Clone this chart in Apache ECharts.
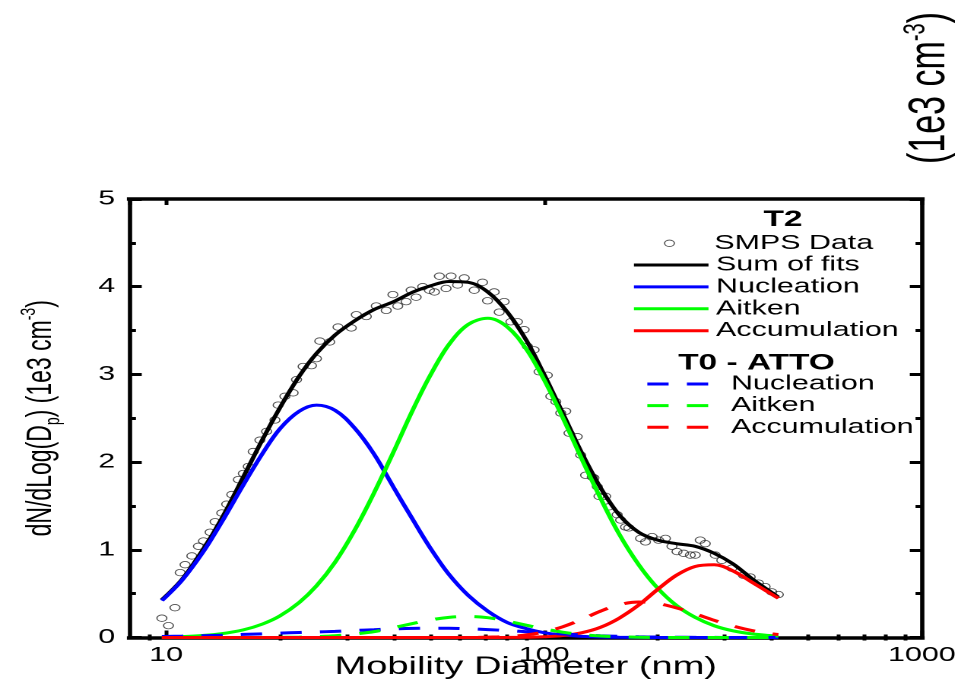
<!DOCTYPE html>
<html>
<head>
<meta charset="utf-8">
<title>SMPS size distribution with lognormal mode fits</title>
<script src="https://cdn.jsdelivr.net/npm/echarts@6/dist/echarts.min.js"></script>
<style>
  html, body { margin: 0; padding: 0; background: #ffffff; overflow: hidden; }
  /* The figure is laid out on a narrow canvas and widened horizontally,
     which gives the wide lettering and oval markers of the exported plot. */
  #chart { width: 632px; height: 680px; transform: scaleX(1.5206); transform-origin: 0 0; }
</style>
</head>
<body>
<div id="chart"></div>
<script>
// ---------- measured SMPS spectrum (T2) ----------
const smpsDiameter = [9.74, 10.14, 10.55, 10.89, 11.22, 11.69, 12.17, 12.55, 13.07, 13.47,
  14.03, 14.46, 14.91, 15.52, 16.0, 16.49, 16.99, 17.7, 18.44, 19.4,
  19.78, 20.61, 21.67, 22.13, 23.03, 24.24, 24.98, 25.49, 27.08, 28.49,
  30.9, 31.86, 33.85, 35.97, 38.22, 39.8, 41.0, 43.15, 44.49, 45.86,
  47.74, 49.73, 51.26, 52.84, 55.03, 56.73, 59.05, 61.5, 65.35, 68.73,
  70.85, 73.8, 76.08, 78.43, 81.68, 85.03, 88.55, 90.36, 94.1, 97.0,
  102.0, 104.2, 107.4, 110.7, 114.1, 116.4, 122.4, 125.0, 128.8, 134.1,
  135.5, 138.3, 139.7, 145.5, 148.4, 156.1, 159.4, 164.3, 167.6, 180.0,
  185.5, 193.1, 201.0, 209.5, 218.0, 224.8, 234.1, 243.8, 251.3, 259.0,
  267.0, 283.8, 295.4, 314.0, 337.1, 351.1, 369.3, 384.6, 400.4, 416.9];
const smpsConc = [0.22, 0.135, 0.34, 0.74, 0.83, 0.93, 1.04, 1.10, 1.20, 1.32,
  1.42, 1.52, 1.63, 1.80, 1.87, 1.95, 2.12, 2.25, 2.35, 2.48,
  2.65, 2.75, 2.79, 2.94, 3.09, 3.10, 3.18, 3.38, 3.37, 3.54,
  3.53, 3.68, 3.66, 3.78, 3.73, 3.91, 3.78, 3.83, 3.96, 3.88,
  4.00, 3.96, 3.94, 4.12, 3.98, 4.12, 4.02, 4.10, 3.96, 4.05,
  3.84, 3.94, 3.71, 3.83, 3.60, 3.60, 3.51, 3.32, 3.28, 3.03,
  2.99, 2.75, 2.69, 2.56, 2.58, 2.33, 2.29, 2.08, 1.85, 1.83,
  1.82, 1.72, 1.61, 1.61, 1.49, 1.40, 1.34, 1.26, 1.25, 1.13,
  1.09, 1.15, 1.11, 1.13, 1.04, 0.98, 0.96, 0.94, 0.94, 1.11,
  1.07, 0.94, 0.88, 0.79, 0.71, 0.69, 0.62, 0.58, 0.52, 0.49];

// ---------- fitted modes, sampled along the diameter axis ----------
const fitDiameter = [9.74, 11, 12.5, 14, 16, 18, 20, 22.5, 25, 28,
  31.5, 35.5, 40, 45, 50, 56, 63, 71, 80, 90,
  100, 112, 126, 141, 158, 178, 200, 224, 251, 282,
  316, 355, 398, 417];
const t2Sum = [0.43, 0.66, 1.00, 1.35, 1.83, 2.26, 2.62, 2.98, 3.24, 3.45,
  3.61, 3.74, 3.83, 3.94, 4.01, 4.06, 4.05, 3.94, 3.71, 3.38,
  3.00, 2.56, 2.10, 1.71, 1.40, 1.20, 1.11, 1.07, 1.04, 0.96,
  0.84, 0.67, 0.52, 0.46];
const t2Nucleation = [0.42, 0.65, 0.97, 1.31, 1.74, 2.10, 2.38, 2.58, 2.65, 2.59,
  2.39, 2.09, 1.71, 1.34, 1.02, 0.72, 0.48, 0.30, 0.17, 0.10,
  0.055, 0.028, 0.013, 0.006, 0.003, 0.001, 0, 0, 0, 0,
  0, 0, 0, 0];
const t2Aitken = [0.005, 0.01, 0.023, 0.043, 0.087, 0.154, 0.246, 0.40, 0.59, 0.86,
  1.22, 1.65, 2.12, 2.60, 2.99, 3.34, 3.57, 3.64, 3.54, 3.28,
  2.94, 2.51, 2.03, 1.59, 1.18, 0.83, 0.56, 0.365, 0.23, 0.134,
  0.076, 0.041, 0.021, 0.016];
const t2Accumulation = [0, 0, 0, 0, 0, 0, 0, 0, 0, 0,
  0, 0, 0, 0, 0, 0, 0, 0, 0.001, 0.003,
  0.008, 0.022, 0.055, 0.116, 0.22, 0.37, 0.55, 0.71, 0.81, 0.83,
  0.76, 0.63, 0.50, 0.447];
const t0Nucleation = [0.012, 0.015, 0.02, 0.026, 0.035, 0.042, 0.05, 0.057, 0.063, 0.07,
  0.08, 0.089, 0.098, 0.104, 0.106, 0.105, 0.099, 0.09, 0.079, 0.066,
  0.054, 0.04, 0.029, 0.02, 0.013, 0.008, 0.005, 0.003, 0.002, 0.001,
  0, 0, 0, 0];
const t0Aitken = [0, 0, 0, 0, 0, 0, 0.002, 0.004, 0.01, 0.02,
  0.04, 0.067, 0.113, 0.16, 0.2, 0.23, 0.24, 0.226, 0.186, 0.139,
  0.098, 0.061, 0.033, 0.017, 0.008, 0.003, 0, 0, 0, 0,
  0, 0, 0, 0];
const t0Accumulation = [0, 0, 0, 0, 0, 0, 0, 0, 0, 0,
  0, 0, 0, 0, 0, 0, 0, 0.004, 0.011, 0.03,
  0.063, 0.122, 0.208, 0.30, 0.374, 0.405, 0.387, 0.338, 0.27, 0.196,
  0.131, 0.079, 0.044, 0.034];

// ---------- axes ----------
const X_MIN = 8, X_MAX = 1000;
const Y_MIN = 0, Y_MAX = 5, Y_STEP = 1;
const minorTickDiameters = [9, 20, 30, 40, 50, 60, 70, 80, 90, 200, 300, 400, 500, 600, 700, 800, 900];
const X_TITLE = 'Mobility Diameter (nm)';
const Y_TITLE = 'dN/dLog(D{sub|p}) (1e3 cm{sup|-3})';
const UNIT_NOTE = '(1e3 cm{sup|-3})';

const FONT = '"Liberation Sans", Arial, Helvetica, sans-serif';
const BLUE = '#0000ff', GREEN = '#00ff00', RED = '#ff0000', BLACK = '#000000';
const DASH = [14, 12];

const pairs = (xs, ys) => xs.map((x, i) => [x, ys[i]]);

function fitLine(name, color, values, dashed) {
  return {
    name: name,
    type: 'line',
    xAxisIndex: 0,
    yAxisIndex: 0,
    data: pairs(fitDiameter, values),
    smooth: 0.35,
    symbol: 'none',
    showSymbol: false,
    lineStyle: { color: color, width: 3, type: dashed ? DASH : 'solid' },
    itemStyle: { color: color },
    emphasis: { disabled: true },
    silent: true,
    z: 3
  };
}

const logMin = Math.log10(X_MIN), logMax = Math.log10(X_MAX);
const minorTickLogs = minorTickDiameters.map(d => Math.log10(d));

function frameLine(width) {
  return { show: true, onZero: false, lineStyle: { color: BLACK, width: width, cap: 'square' } };
}

// major ticks/labels live on the log axes, minor ticks on matching axes in log units
const xAxes = [
  {
    type: 'log', logBase: 10, min: X_MIN, max: X_MAX, position: 'bottom',
    axisLine: frameLine(3.5),
    axisTick: { show: true, inside: true, length: 7, lineStyle: { color: BLACK, width: 2.5 } },
    minorTick: { show: false }, splitLine: { show: false },
    axisLabel: {
      show: true, showMinLabel: false, color: BLACK, fontSize: 20, fontFamily: FONT, margin: 8,
      formatter: v => String(Math.round(v))
    },
    name: X_TITLE, nameLocation: 'middle', nameGap: 17, nameMoveOverlap: false,
    nameTextStyle: { color: BLACK, fontSize: 25, fontFamily: FONT }
  },
  {
    type: 'value', min: logMin, max: logMax, position: 'bottom',
    axisLine: { show: false },
    axisTick: { show: true, inside: true, length: 3, customValues: minorTickLogs, lineStyle: { color: BLACK, width: 2.5 } },
    axisLabel: { show: false }, splitLine: { show: false }
  },
  {
    type: 'log', logBase: 10, min: X_MIN, max: X_MAX, position: 'top',
    axisLine: frameLine(3.5),
    axisTick: { show: true, inside: true, length: 6, lineStyle: { color: BLACK, width: 2.5 } },
    minorTick: { show: false }, splitLine: { show: false },
    axisLabel: { show: false }
  },
  {
    type: 'value', min: logMin, max: logMax, position: 'top',
    axisLine: { show: false },
    axisTick: { show: true, inside: true, length: 3, customValues: minorTickLogs, lineStyle: { color: BLACK, width: 2.5 } },
    axisLabel: { show: false }, splitLine: { show: false }
  }
];

const yAxes = [
  {
    type: 'value', min: Y_MIN, max: Y_MAX, interval: Y_STEP, position: 'left',
    axisLine: frameLine(2.8),
    axisTick: { show: true, inside: true, length: 8, lineStyle: { color: BLACK, width: 3 } },
    minorTick: { show: true, splitNumber: 2, length: 4.2, lineStyle: { color: BLACK, width: 3 } },
    splitLine: { show: false }, minorSplitLine: { show: false },
    axisLabel: { color: BLACK, fontSize: 20, fontFamily: FONT, margin: 9.5 },
    name: Y_TITLE, nameLocation: 'middle', nameGap: 43, nameMoveOverlap: false,
    nameTextStyle: {
      color: BLACK, fontSize: 23, fontFamily: FONT, lineHeight: 30,
      rich: {
        sub: { color: BLACK, fontSize: 14, fontFamily: FONT, lineHeight: 14, verticalAlign: 'bottom' },
        sup: { color: BLACK, fontSize: 14, fontFamily: FONT, lineHeight: 14, verticalAlign: 'top' }
      }
    }
  },
  {
    type: 'value', min: Y_MIN, max: Y_MAX, interval: Y_STEP, position: 'right',
    axisLine: frameLine(2.8),
    axisTick: { show: true, inside: true, length: 8, lineStyle: { color: BLACK, width: 3 } },
    minorTick: { show: true, splitNumber: 2, length: 4.2, lineStyle: { color: BLACK, width: 3 } },
    splitLine: { show: false }, minorSplitLine: { show: false },
    axisLabel: { show: false }
  }
];

const legendText = { color: BLACK, fontSize: 20, fontFamily: FONT, lineHeight: 20 };
// line legends draw only the stroke, no marker in the middle
const hiddenMarker = { color: 'rgba(0,0,0,0)', borderWidth: 0, opacity: 0 };

const option = {
  animation: false,
  backgroundColor: '#ffffff',
  grid: { left: 85.2, right: 25.7, top: 199, bottom: 42.5, containLabel: false, outerBoundsMode: 'none' },
  xAxis: xAxes,
  yAxis: yAxes,
  legend: [
    {
      // the marker sits centred in a 49px slot; the box is placed by the marker's own edge
      data: ['SMPS Data'], orient: 'vertical', left: 436.6, top: 233.3, padding: 0,
      itemWidth: 49, itemHeight: 6.5, selectedMode: false, icon: 'circle',
      itemStyle: { color: 'rgba(0,0,0,0)', borderColor: '#222222', borderWidth: 0.8 },
      textStyle: legendText
    },
    {
      data: ['Sum of fits', 'Nucleation', 'Aitken', 'Accumulation'],
      orient: 'vertical', left: 415.4, top: 255, padding: 0,
      itemWidth: 49, itemHeight: 14, itemGap: 1.9, selectedMode: false,
      lineStyle: { width: 3 }, itemStyle: hiddenMarker,
      textStyle: legendText
    },
    {
      data: ['T0 Nucleation', 'T0 Aitken', 'T0 Accumulation'],
      orient: 'vertical', left: 424.2, top: 374, padding: 0,
      itemWidth: 40, itemHeight: 14, itemGap: 1.65, selectedMode: false,
      lineStyle: { width: 3 }, itemStyle: hiddenMarker,
      formatter: name => name.replace('T0 ', ''),
      textStyle: Object.assign({}, legendText, { padding: [0, 0, 0, 10] })
    }
  ],
  graphic: [
    {
      type: 'text', x: 514.9, y: 220, silent: true,
      style: { text: 'T2', font: 'bold 22px ' + FONT, fill: BLACK,
        align: 'center', verticalAlign: 'middle', textAlign: 'center', textVerticalAlign: 'middle' }
    },
    {
      type: 'text', x: 497.5, y: 363.3, silent: true,
      style: { text: 'T0 - ATTO', font: 'bold 22px ' + FONT, fill: BLACK,
        align: 'center', verticalAlign: 'middle', textAlign: 'center', textVerticalAlign: 'middle' }
    },
    {
      type: 'text', x: 611.6, y: 88, rotation: Math.PI / 2, silent: true,
      style: {
        text: UNIT_NOTE, fontSize: 34, fontFamily: FONT, fill: BLACK, lineHeight: 38,
        align: 'center', verticalAlign: 'middle', textAlign: 'center', textVerticalAlign: 'middle',
        rich: { sup: { fontSize: 20, fontFamily: FONT, fill: BLACK, lineHeight: 20, verticalAlign: 'top' } }
      }
    }
  ],
  series: [
    {
      name: 'SMPS Data',
      type: 'scatter',
      xAxisIndex: 0, yAxisIndex: 0,
      data: pairs(smpsDiameter, smpsConc),
      symbol: 'circle',
      symbolSize: 6.5,
      itemStyle: { color: 'rgba(0,0,0,0)', borderColor: '#222222', borderWidth: 0.8 },
      emphasis: { disabled: true },
      silent: true,
      z: 2
    },
    fitLine('Sum of fits', BLACK, t2Sum, false),
    fitLine('Nucleation', BLUE, t2Nucleation, false),
    fitLine('Aitken', GREEN, t2Aitken, false),
    fitLine('Accumulation', RED, t2Accumulation, false),
    fitLine('T0 Nucleation', BLUE, t0Nucleation, true),
    fitLine('T0 Aitken', GREEN, t0Aitken, true),
    fitLine('T0 Accumulation', RED, t0Accumulation, true)
  ]
};

const chart = echarts.init(document.getElementById('chart'), null, { renderer: 'canvas', devicePixelRatio: 2 });
chart.setOption(option);
</script>
</body>
</html>
